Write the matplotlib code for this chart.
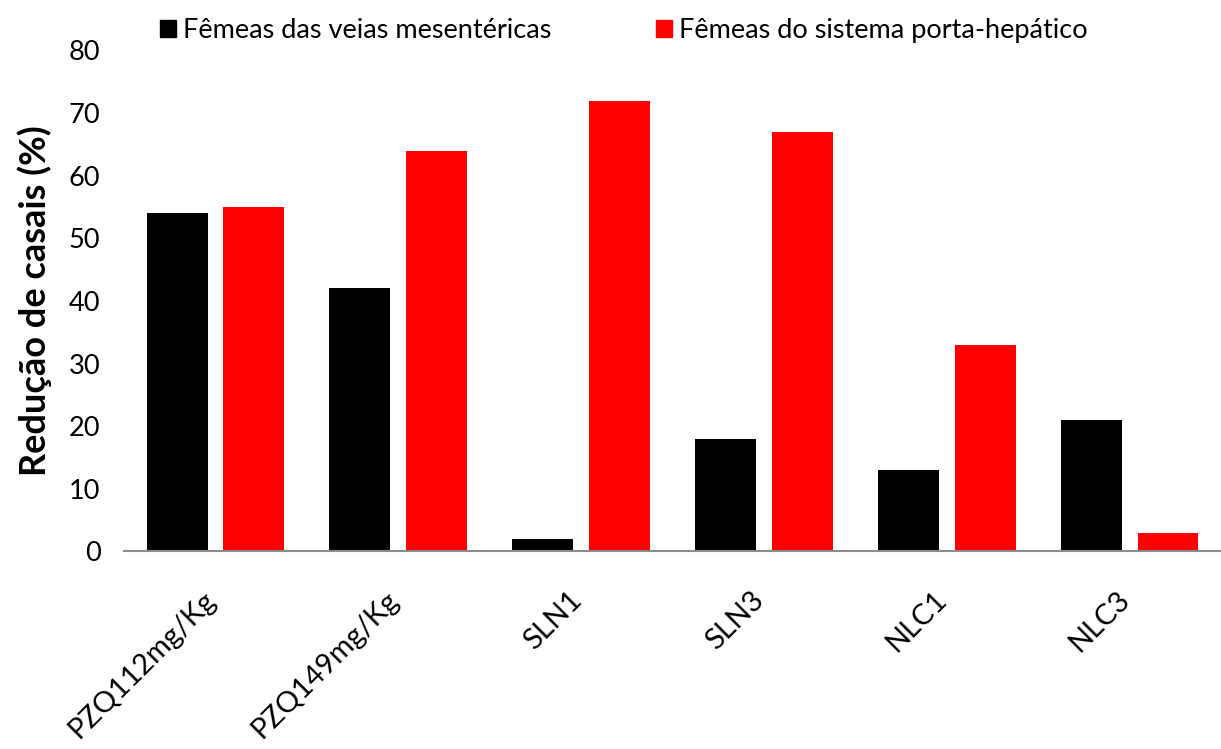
import numpy as np
import matplotlib
matplotlib.use("Agg")
import matplotlib.pyplot as plt
import matplotlib.transforms as mtransforms
from matplotlib.patches import Patch

plt.rcParams['font.family'] = ['Lato', 'DejaVu Sans']

groups = ["PZQ112mg/Kg", "PZQ149mg/Kg", "SLN1", "SLN3", "NLC1", "NLC3"]
mesentericas = [54, 42, 2, 18, 13, 21]
porta_hepatico = [55, 64, 72, 67, 33, 3]
series_names = ["Fêmeas das veias mesentéricas", "Fêmeas do sistema porta-hepático"]
yticks = [0, 10, 20, 30, 40, 50, 60, 70, 80]

fig = plt.figure(figsize=(12.21, 7.49), dpi=100)
ax = fig.add_axes([0.1016, 0.2637, 0.8984, 0.6690])

x = np.arange(len(groups))
w = 0.333
ax.bar(x - 0.21, mesentericas, width=w, color="black")
ax.bar(x + 0.21, porta_hepatico, width=w, color="#ff0000")

ax.set_xlim(-0.5, len(groups) - 0.5)
ax.set_ylim(0, 80)
ax.set_yticks(yticks)
ax.tick_params(axis="y", length=0, labelsize=19.5, pad=17)
ax.tick_params(axis="x", length=0)

for s in ["top", "right", "left"]:
    ax.spines[s].set_visible(False)
ax.spines["bottom"].set_color("#8c8c8c")
ax.spines["bottom"].set_linewidth(1.5)

ax.set_xticks(x)
ax.set_xticklabels(groups, rotation=45, ha="right", va="top",
                   rotation_mode="anchor", fontsize=21)
# push the slanted category names down below the axis line
shift = mtransforms.ScaledTranslation(-0.13, -0.30, fig.dpi_scale_trans)
for lbl in ax.get_xticklabels():
    lbl.set_transform(lbl.get_transform() + shift)

ax.set_ylabel("Redução de casais (%)", fontsize=26, fontweight="bold", labelpad=12)

handles = [Patch(color="black"), Patch(color="#ff0000")]
fig.legend(handles, series_names, loc="upper left", bbox_to_anchor=(0.111, 1.008),
           ncol=2, frameon=False, fontsize=19.5, handlelength=0.6, handleheight=0.6,
           handletextpad=0.25, columnspacing=3.85)

fig.savefig("out.png", dpi=100)
